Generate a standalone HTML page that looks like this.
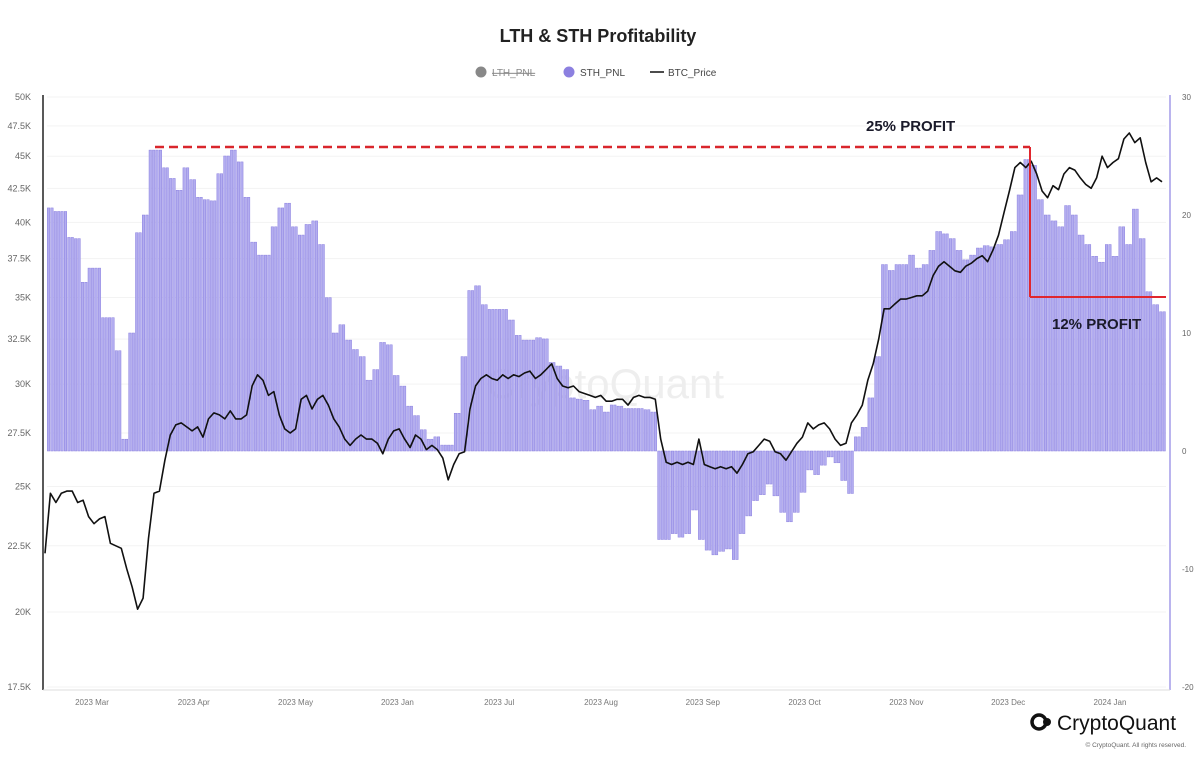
<!DOCTYPE html>
<html><head><meta charset="utf-8"><style>
body{margin:0;background:#fff;font-family:"Liberation Sans",sans-serif;}
svg{display:block}
</style></head><body>
<svg id="chart" width="1200" height="762" viewBox="0 0 1200 762" xmlns="http://www.w3.org/2000/svg">
<rect width="1200" height="762" fill="#fff"/>
<text x="598" y="42" text-anchor="middle" font-size="18" font-weight="bold" fill="#222">LTH &amp; STH Profitability</text>
<g font-size="10" fill="#444">
 <g><circle cx="481" cy="72" r="5.5" fill="#888"/><text x="492" y="76" fill="#888" text-decoration="line-through">LTH_PNL</text></g>
 <g><circle cx="569" cy="72" r="5.5" fill="#8c80e0"/><text x="580" y="76">STH_PNL</text></g>
 <g><line x1="650" y1="72" x2="664" y2="72" stroke="#111" stroke-width="1.5"/><text x="668" y="76">BTC_Price</text></g>
</g>
<g id="grid"></g>
<text x="605" y="398" text-anchor="middle" font-size="42" fill="#eeeeee">CryptoQuant</text>
<g id="bars"></g>
<g id="line"></g>
<g id="axes"></g>
<g>
 <line x1="155" y1="147" x2="1030" y2="147" stroke="#d9262c" stroke-width="2.5" stroke-dasharray="9,5"/>
 <line x1="1030" y1="147" x2="1030" y2="297" stroke="#e0262e" stroke-width="2"/>
 <line x1="1030" y1="297" x2="1166" y2="297" stroke="#e0262e" stroke-width="2"/>
 <text x="866" y="131" font-size="15" font-weight="bold" fill="#1a1a2a">25% PROFIT</text>
 <text x="1052" y="329" font-size="15" font-weight="bold" fill="#1a1a2a">12% PROFIT</text>
</g>
<g>
 <circle cx="1039" cy="722" r="7" fill="none" stroke="#111" stroke-width="3.5"/>
 <circle cx="1047" cy="722" r="4" fill="#111"/>
 <text x="1057" y="730" font-size="21" fill="#111">CryptoQuant</text>
 <text x="1186" y="747" text-anchor="end" font-size="6.5" fill="#666">© CryptoQuant. All rights reserved.</text>
</g>
</svg>
<script>
const sthValues=[20.6,20.3,20.3,18.1,18,14.3,15.5,15.5,11.3,11.3,8.5,1.0,10,18.5,20,25.5,25.5,24,23.1,22.1,24,23,21.5,21.3,21.2,23.5,25,25.5,24.5,21.5,17.7,16.6,16.6,19,20.6,21,19,18.3,19.2,19.5,17.5,13,10,10.7,9.4,8.6,8,6,6.9,9.2,9.0,6.4,5.5,3.8,3,1.8,1,1.2,0.5,0.5,3.2,8,13.6,14,12.4,12,12,12,11.1,9.8,9.4,9.4,9.6,9.5,7.5,7.2,6.9,4.5,4.4,4.3,3.5,3.8,3.3,3.9,3.8,3.6,3.6,3.6,3.5,3.3,-7.5,-7.5,-7,-7.3,-7,-5,-7.5,-8.4,-8.8,-8.5,-8.3,-9.2,-7,-5.5,-4.2,-3.7,-2.8,-3.8,-5.2,-6,-5.2,-3.5,-1.6,-2,-1.2,-0.5,-1,-2.5,-3.6,1.2,2,4.5,8,15.8,15.3,15.8,15.8,16.6,15.5,15.8,17,18.6,18.4,18,17,16.2,16.6,17.2,17.4,17.3,17.5,17.9,18.6,21.7,24.7,24.2,21.3,20,19.5,19,20.8,20,18.3,17.5,16.5,16,17.5,16.5,19,17.5,20.5,18,13.5,12.4,11.8];
const btcPrice=[22.2,24.7,24.3,24.7,24.8,24.8,24.3,24.4,23.7,23.4,23.6,23.7,22.6,22.5,22.4,21.6,20.9,20.1,20.5,22.8,24.7,24.8,26.2,27.4,27.9,28.0,27.8,27.6,27.8,27.3,28.2,28.5,28.4,28.2,28.6,28.2,28.2,28.4,29.9,30.5,30.2,29.4,29.6,28.4,27.7,27.5,27.7,29.2,29.4,28.7,29.2,29.4,28.9,28.2,27.8,27.2,26.9,27.2,27.4,27.2,27.2,27.0,26.5,27.2,27.6,27.7,27.2,26.8,27.4,27.2,26.7,26.9,26.7,26.3,25.3,26.0,26.5,26.6,28.7,29.9,30.3,30.5,30.3,30.2,30.5,30.3,30.5,30.4,30.6,30.7,30.3,30.5,30.8,31.1,30.3,29.9,29.8,29.9,29.6,29.5,29.4,29.3,29.4,29.1,29.1,29.2,29.2,28.9,29.3,29.4,29.3,29.3,29.2,27.2,26.1,26.0,26.1,26.0,26.1,26.0,27.2,26.0,25.9,25.8,25.9,25.8,25.9,25.6,26.0,26.5,26.6,26.9,27.2,27.1,26.6,26.5,26.2,26.6,27.0,27.3,28.0,27.7,27.9,28.0,27.7,27.2,26.9,27.0,28.0,28.4,28.9,30.2,31.1,32.5,34.3,34.3,34.6,34.9,34.9,35.0,35.1,35.1,35.4,36.4,37.0,37.3,37.0,36.7,36.6,37.0,37.2,37.5,37.7,37.3,38.1,39.1,40.7,42.3,44.1,44.5,44.1,44.6,43.6,42.3,41.8,42.7,42.4,43.6,44.1,43.9,43.3,42.8,42.5,43.3,45.0,44.1,44.5,44.8,46.4,46.9,46.1,46.5,44.5,43.0,43.3,43.0];
const leftTicks=[50,47.5,45,42.5,40,37.5,35,32.5,30,27.5,25,22.5,20,17.5];
const rightTicks=[30,20,10,0,-10,-20];
const xLabels=["2023 Mar","2023 Apr","2023 May","2023 Jan","2023 Jul","2023 Aug","2023 Sep","2023 Oct","2023 Nov","2023 Dec","2024 Jan"];

const NS="http://www.w3.org/2000/svg";
const plotTop=97,plotBot=687,barL=47,barR=1166,lineL=45,lineR=1162;
function yLeft(k){return plotTop+Math.log(50/k)/Math.log(50/17.5)*(plotBot-plotTop);}
function yRight(v){return plotTop+(30-v)/50*(plotBot-plotTop);}
function xBar(i){return barL+(barR-barL)*i/sthValues.length;}
function xLine(i){return lineL+(lineR-lineL)*i/(btcPrice.length-1);}
function mk(tag,attrs,parent){const e=document.createElementNS(NS,tag);for(const k in attrs)e.setAttribute(k,attrs[k]);parent.appendChild(e);return e;}

const grid=document.getElementById('grid'),axes=document.getElementById('axes');
leftTicks.forEach(t=>{
  const y=yLeft(t);
  const g=mk('line',{x1:47,x2:1166,y1:y,y2:y,stroke:'#f3f3f3','stroke-width':1},grid);
  
  
  const tx=mk('text',{x:31,y:y+3,'text-anchor':'end','font-size':9,fill:'#666'},axes);
  tx.textContent=(t+'K');
  
  
});
rightTicks.forEach(t=>{
  const y=yRight(t);
  const tx=mk('text',{x:1182,y:y+3,'font-size':8,fill:'#666'},axes);
  tx.textContent=t;
  
  
});
xLabels.forEach((l,i)=>{
  const x=92+i*101.8;
  const tx=mk('text',{x:x,y:705,'text-anchor':'middle','font-size':8,fill:'#777'},axes);
  tx.textContent=l;
  
  
});
const la=mk('line',{x1:43,x2:43,y1:95,y2:690,stroke:'#222','stroke-width':1.5},axes);


const ra=mk('line',{x1:1170,x2:1170,y1:95,y2:690,stroke:'#a49ce8','stroke-width':1.5},axes);


const ba=mk('line',{x1:43,x2:1170,y1:690,y2:690,stroke:'#ddd','stroke-width':1},axes);



const bars=document.getElementById('bars');
const y0=yRight(0),bw=(barR-barL)/sthValues.length;
sthValues.forEach((v,i)=>{
  const y=yRight(v);
  for(let h=0;h<2;h++){
    const r=mk('rect',{x:xBar(i)+h*bw/2+0.3,y:Math.min(y,y0),width:bw/2-0.9,height:Math.abs(y-y0),fill:'#b3adf0',stroke:'#8b80df','stroke-width':0.5},bars);
    
    
  }
});
const pts=btcPrice.map((p,i)=>xLine(i).toFixed(1)+','+yLeft(p).toFixed(1)).join(' ');
const pl=mk('polyline',{points:pts,fill:'none',stroke:'#111','stroke-width':1.6,'stroke-linejoin':'round'},document.getElementById('line'));


</script>
</body></html>
